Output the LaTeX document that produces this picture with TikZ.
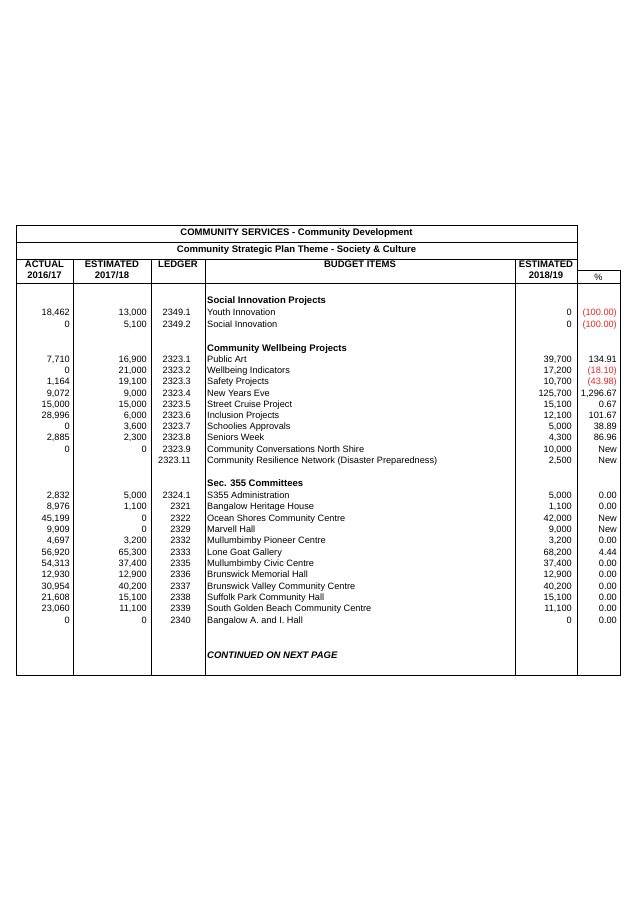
\documentclass[tikz,border=0pt]{standalone}
\usepackage{fontspec}
\setmainfont{Liberation Sans}
\usepackage{tikz}
\definecolor{negred}{RGB}{230,40,40}
\tikzset{
    cell/.style={inner sep=0pt, font=\fontsize{9.2}{10}\selectfont},
    head/.style={cell, font=\fontsize{9.5}{11}\selectfont\bfseries},
    grid/.style={draw=black, line width=0.6pt},
}
% one line of the budget table
\newcommand*\budgetrow[7]{
    \node[cell, anchor=base east] at (70,#1+3.3) {#2};
    \node[cell, anchor=base east] at (147,#1+3.3) {#3};
    \node[cell, anchor=base east] at (191,#1+3.3) {#4};
    \node[cell, anchor=base west] at (207,#1+3.3) {#5};
    \node[cell, anchor=base east] at (572,#1+3.3) {#6};
    \node[cell, anchor=base east] at (617,#1+3.3) {#7};
}
\newcommand*\negpct[1]{\textcolor{negred}{(#1)}}
\begin{document}
\begin{tikzpicture}[x=1pt, y=-1pt]
	\useasboundingbox (0,0) rectangle (637,902);
	% frame
	\draw[grid] (16,225) rectangle (577,675);
	\draw[grid] (16,242) -- (577,242);
	\draw[grid] (16,259) -- (577,259);
	\draw[grid] (16,283) -- (620,283);
	\draw[grid] (577,270) rectangle (620,675);
	\foreach \x in {73,151,205,515} \draw[grid] (\x,259) -- (\x,675);
	% headings
	\node[head] (title) at (296.5,233.5) {COMMUNITY SERVICES - Community Development};
	\node[head] (theme) at (296.5,250.5) {Community Strategic Plan Theme - Society \& Culture};
	\node[head, align=center, anchor=north] at (44.5,260.5) {ACTUAL\\2016/17};
	\node[head, align=center, anchor=north] at (112,260.5) {ESTIMATED\\2017/18};
	\node[head, anchor=north] at (178,260.5) {LEDGER};
	\node[head, anchor=north] at (360,260.5) {BUDGET ITEMS};
	\node[head, align=center, anchor=north] at (546,260.5) {ESTIMATED\\2018/19};
	\node[cell] at (598.5,277) {\%};
	% Social Innovation
	\node[head, anchor=base west] at (207,303.5) {Social Innovation Projects};
	\budgetrow{312}{18,462}{13,000}{2349.1}{Youth Innovation}{0}{\negpct{100.00}}
	\budgetrow{324}{0}{5,100}{2349.2}{Social Innovation}{0}{\negpct{100.00}}
	% Community Wellbeing
	\node[head, anchor=base west] at (207,351.5) {Community Wellbeing Projects};
	\budgetrow{359}{7,710}{16,900}{2323.1}{Public Art}{39,700}{134.91}
	\budgetrow{370.5}{0}{21,000}{2323.2}{Wellbeing Indicators}{17,200}{\negpct{18.10}}
	\budgetrow{381.5}{1,164}{19,100}{2323.3}{Safety Projects}{10,700}{\negpct{43.98}}
	\budgetrow{393}{9,072}{9,000}{2323.4}{New Years Eve}{125,700}{1,296.67}
	\budgetrow{404}{15,000}{15,000}{2323.5}{Street Cruise Project}{15,100}{0.67}
	\budgetrow{415}{28,996}{6,000}{2323.6}{Inclusion Projects}{12,100}{101.67}
	\budgetrow{426}{0}{3,600}{2323.7}{Schoolies Approvals}{5,000}{38.89}
	\budgetrow{437.5}{2,885}{2,300}{2323.8}{Seniors Week}{4,300}{86.96}
	\budgetrow{449}{0}{0}{2323.9}{Community Conversations North Shire}{10,000}{New}
	\budgetrow{460}{}{}{2323.11}{Community Resilience Network (Disaster Preparedness)}{2,500}{New}
	% Sec. 355
	\node[head, anchor=base west] at (207,486.5) {Sec. 355 Committees};
	\budgetrow{495}{2,832}{5,000}{2324.1}{S355 Administration}{5,000}{0.00}
	\budgetrow{506.5}{8,976}{1,100}{2321}{Bangalow Heritage House}{1,100}{0.00}
	\budgetrow{518}{45,199}{0}{2322}{Ocean Shores Community Centre}{42,000}{New}
	\budgetrow{529}{9,909}{0}{2329}{Marvell Hall}{9,000}{New}
	\budgetrow{540.5}{4,697}{3,200}{2332}{Mullumbimby Pioneer Centre}{3,200}{0.00}
	\budgetrow{552}{56,920}{65,300}{2333}{Lone Goat Gallery}{68,200}{4.44}
	\budgetrow{563}{54,313}{37,400}{2335}{Mullumbimby Civic Centre}{37,400}{0.00}
	\budgetrow{574.5}{12,930}{12,900}{2336}{Brunswick Memorial Hall}{12,900}{0.00}
	\budgetrow{586}{30,954}{40,200}{2337}{Brunswick Valley Community Centre}{40,200}{0.00}
	\budgetrow{597}{21,608}{15,100}{2338}{Suffolk Park Community Hall}{15,100}{0.00}
	\budgetrow{608.5}{23,060}{11,100}{2339}{South Golden Beach Community Centre}{11,100}{0.00}
	\budgetrow{620}{0}{0}{2340}{Bangalow A. and I. Hall}{0}{0.00}
	\node[head, anchor=base west, font=\fontsize{9.5}{11}\selectfont\bfseries\itshape] at (207,658.5) {CONTINUED ON NEXT PAGE};
\end{tikzpicture}
\end{document}
